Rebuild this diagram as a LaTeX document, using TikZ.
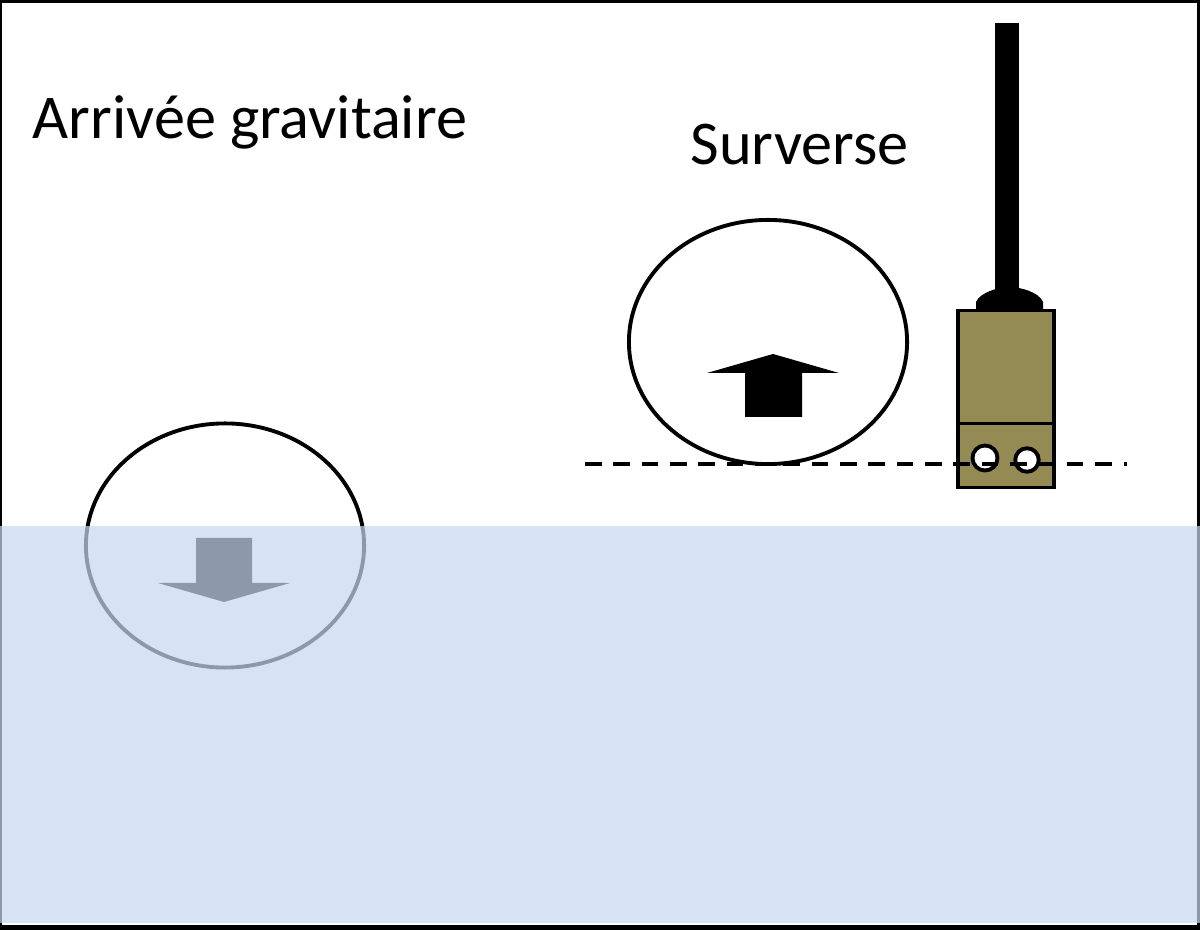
\documentclass[tikz,border=0pt]{standalone}
\usepackage{fontspec}
\setmainfont{Carlito}
\usetikzlibrary{shapes.geometric}
\definecolor{sensorolive}{RGB}{148,138,84}
\definecolor{waterblue}{RGB}{198,216,240}

\begin{document}
\begin{tikzpicture}[
	x=0.01cm, y=0.01cm,
	ringnode/.style={ellipse, draw=black, line width=1.1pt, minimum width=2.78cm, minimum height=2.44cm, inner sep=0pt},
	bodynode/.style={rectangle, draw=black, fill=sensorolive, line width=1.05pt, minimum width=0.955cm, inner sep=0pt},
	holenode/.style={circle, draw=black, fill=white, line width=1.1pt, inner sep=0pt},
	labelnode/.style={anchor=base west, inner sep=0pt, font=\fontsize{17.7pt}{21pt}\selectfont},
]
\useasboundingbox (0,0) rectangle (1200,930);
\fill[black] (0,0) rectangle (1200,930);
\fill[white] (2,5) rectangle (1197,927);

\node[labelnode] (arrival) at (32,791) {Arrivée gravitaire};
\node[labelnode] (overflow) at (690,765) {Surverse};

% sensor
\fill[black] (995,907) rectangle (1019,635);
\fill[black] (976,619) -- (976,628) .. controls (980,638) and (1000,643) .. (1009,643) .. controls (1020,643) and (1039,638) .. (1043,628) -- (1043,619) -- cycle;
\node[bodynode, minimum height=1.15cm] (body) at (1006,562) {};
\node[bodynode, minimum height=0.64cm] (clamp) at (1006,474.5) {};
\node[holenode, minimum size=0.25cm] (holeleft) at (985,472) {};
\node[holenode, minimum size=0.235cm] (holeright) at (1027,470) {};

% circles and arrows
\node[ringnode] (ringup) at (768,588) {};
\node[ringnode] (ringdown) at (225,384.5) {};
\fill[black] (773,576) -- (839,557) -- (802,557) -- (802,513) -- (745,513) -- (745,557) -- (707,557) -- cycle;
\fill[black] (196,392) -- (252,392) -- (252,347) -- (290,347) -- (224,328) -- (158,347) -- (196,347) -- cycle;

% level line
\coordinate (levelstart) at (585,466);
\coordinate (levelend) at (1127,466);
\draw[line width=1.1pt, dash pattern=on 4.7pt off 3.36pt] (levelstart) -- (levelend);

% water
\fill[waterblue, opacity=0.71] (0,7) rectangle (1200,404);
\end{tikzpicture}
\end{document}
